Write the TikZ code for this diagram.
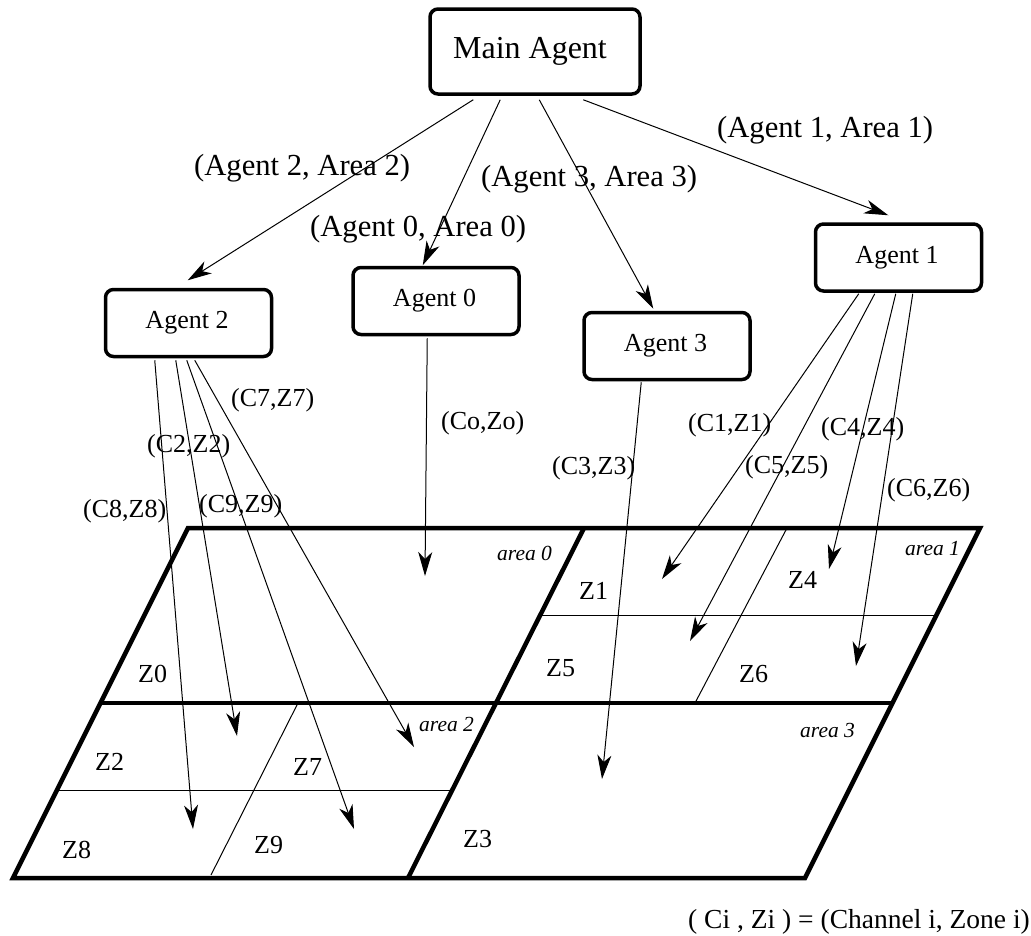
\documentclass[tikz,border=0pt]{standalone}
\usepackage{fontspec}
\setmainfont{Liberation Serif}
\usetikzlibrary{arrows.meta}
\tikzset{
  x=1pt,y=-1pt,
  boxnode/.style={draw=black,line width=3.5pt,rounded corners=8pt,inner sep=0pt,align=center},
  mainbox/.style={boxnode,minimum width=210pt,minimum height=85pt,font=\fontsize{32}{38}\selectfont},
  agentbox/.style={boxnode,minimum width=166pt,minimum height=67pt,font=\fontsize{26}{31}\selectfont},
  arr/.style={line width=1pt,-{Stealth[length=24pt,width=14pt,inset=7pt]}},
  txt/.style={inner sep=0pt,anchor=base west},
  big/.style={txt,font=\fontsize{30.6}{36}\selectfont},
  mid/.style={txt,font=\fontsize{26}{31}\selectfont},
  small/.style={txt,font=\fontsize{21.5}{26}\itshape\selectfont},
  heavy/.style={line width=4.5pt,line join=miter},
  thinl/.style={line width=1pt}
}
\begin{document}
\begin{tikzpicture}
\useasboundingbox (0,0) rectangle (1031,935);
% plan
\coordinate (tl) at (188,528);
\coordinate (tm) at (584,528);
\coordinate (tr) at (980,528);
\coordinate (ml) at (100,703);
\coordinate (mr) at (893,703);
\coordinate (bl) at (13,878);
\coordinate (bm) at (408,878);
\coordinate (br) at (805,878);
\draw[heavy] (tl) -- (tr) -- (br) -- (bl) -- cycle;
\draw[heavy] (ml) -- (mr);
\draw[heavy] (tm) -- (bm);
\draw[thinl] (58,790) -- (450,790);
\draw[thinl] (540,615) -- (937,615);
\draw[thinl] (787,528) -- (695,703);
\draw[thinl] (298,703) -- (211,875);
% boxes
\node[mainbox] (main) at (535,51.5) {Main Agent\hspace*{10pt}};
\node[agentbox] (ag2) at (188.5,323) {Agent 2\hspace*{3pt}};
\node[agentbox] (ag0) at (436,301) {Agent 0\hspace*{3pt}};
\node[agentbox] (ag3) at (667,346) {Agent 3\hspace*{3pt}};
\node[agentbox] (ag1) at (898.5,257.5) {Agent 1\hspace*{3pt}};
% targets
\coordinate (t8) at (193,829);
\coordinate (t2) at (237,736);
\coordinate (t9) at (354,829);
\coordinate (t7) at (414,747);
\coordinate (to) at (425,576);
\coordinate (t3) at (602,779);
\coordinate (t1) at (662,579);
\coordinate (t5) at (690,641);
\coordinate (t4) at (829,569);
\coordinate (t6) at (856,666);
% main connectors
\draw[arr] ([xshift=45pt,yshift=-4pt]main.south west) -- ([xshift=84pt,yshift=7.5pt]ag2.north west);
\draw[arr] ([xshift=72pt,yshift=-4pt]main.south west) -- ([xshift=71.5pt,yshift=0.5pt]ag0.north west);
\draw[arr] ([xshift=111pt,yshift=-4pt]main.south west) -- ([xshift=71pt,yshift=2pt]ag3.north west);
\draw[arr] ([xshift=155pt,yshift=-4pt]main.south west) -- ([xshift=74.5pt,yshift=7pt]ag1.north west);
% agent connectors
\draw[arr] ([xshift=51pt,yshift=-2pt]ag2.south west) -- (t8);
\draw[arr] ([xshift=72pt,yshift=-2pt]ag2.south west) -- (t2);
\draw[arr] ([xshift=83pt,yshift=-2pt]ag2.south west) -- (t9);
\draw[arr] ([xshift=91pt,yshift=-2pt]ag2.south west) -- (t7);
\draw[arr] ([xshift=76pt,yshift=-2pt]ag0.south west) -- (to);
\draw[arr] ([xshift=59pt,yshift=-1pt]ag3.south west) -- (t3);
\draw[arr] ([xshift=45pt,yshift=-1pt]ag1.south west) -- (t1);
\draw[arr] ([xshift=61pt,yshift=-1pt]ag1.south west) -- (t5);
\draw[arr] ([xshift=82pt,yshift=-1pt]ag1.south west) -- (t4);
\draw[arr] ([xshift=99pt,yshift=-1pt]ag1.south west) -- (t6);
% labels
\node[big] (la1) at (717,137) {(Agent 1, Area 1)};
\node[big] (la2) at (194,175) {(Agent 2, Area 2)};
\node[big] (la3) at (481,186) {(Agent 3, Area 3)};
\node[big] (la0) at (310,236) {(Agent 0, Area 0)};
\node[mid] (c7) at (231,406) {(C7,Z7)};
\node[mid] (c2) at (147,452) {(C2,Z2)};
\node[mid] (c8) at (83,517) {(C8,Z8)};
\node[mid] (c9) at (199,512) {(C9,Z9)};
\node[mid] (co) at (441,429) {(Co,Zo)};
\node[mid] (c3) at (552,474) {(C3,Z3)};
\node[mid] (c1) at (688,431) {(C1,Z1)};
\node[mid] (c5) at (745,473) {(C5,Z5)};
\node[mid] (c4) at (821,435) {(C4,Z4)};
\node[mid] (c6) at (887,496) {(C6,Z6)};
\node[mid] (z0) at (138,682) {Z0};
\node[mid] (z2) at (95,770) {Z2};
\node[mid] (z7) at (293,775) {Z7};
\node[mid] (z8) at (62,858) {Z8};
\node[mid] (z9) at (254,853) {Z9};
\node[mid] (z3) at (463,847) {Z3};
\node[mid] (z1) at (579,599) {Z1};
\node[mid] (z4) at (788,588) {Z4};
\node[mid] (z5) at (546,676) {Z5};
\node[mid] (z6) at (739,682) {Z6};
\node[small] (a0) at (497,560) {area 0};
\node[small] (a1) at (905,555) {area 1};
\node[small] (a2) at (419,731) {area 2};
\node[small] (a3) at (800,737) {area 3};
\node[mid,font=\fontsize{27.5}{32}\selectfont] (key) at (688,928) {( Ci , Zi ) = (Channel i, Zone i)};
\end{tikzpicture}
\end{document}
